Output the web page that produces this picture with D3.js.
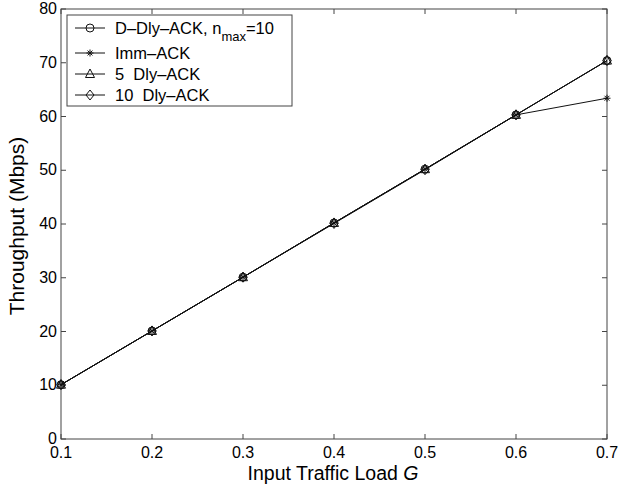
<!DOCTYPE html>
<html>
<head>
<meta charset="utf-8">
<script src="https://cdn.jsdelivr.net/npm/d3@7"></script>
<style>
  body { margin: 0; background: #fff; }
  text { font-family: "Liberation Sans", Arial, sans-serif; white-space: pre; }
</style>
</head>
<body>
<svg id="svg" width="620" height="487"></svg>
<script>
'use strict'

// values
const loads = [0.1, 0.2, 0.3, 0.4, 0.5, 0.6, 0.7]
const dDly = [10.1, 20.1, 30.1, 40.2, 50.2, 60.3, 70.4]
const imm = [10.1, 20.1, 30.1, 40.2, 50.2, 60.3, 63.4]
const dly5 = [10.1, 20.1, 30.1, 40.2, 50.2, 60.3, 70.4]
const dly10 = [10.1, 20.1, 30.1, 40.1, 50.1, 60.3, 70.4]
const xTicks = [0.1, 0.2, 0.3, 0.4, 0.5, 0.6, 0.7]
const yTicks = [0, 10, 20, 30, 40, 50, 60, 70, 80]

const series = [
  { name: 'D-Dly-ACK', values: dDly, marker: 'circle' },
  { name: 'Imm-ACK', values: imm, marker: 'star' },
  { name: '5  Dly-ACK', values: dly5, marker: 'triangle' },
  { name: '10  Dly-ACK', values: dly10, marker: 'diamond' }
]

function draw(){
  let svg = d3.select('#svg')
  let left = 61, right = 607, top = 9, bottom = 439
  const axisColor = '#444'

  let x = d3.scaleLinear().domain([0.1, 0.7]).range([left, right])
  let y = d3.scaleLinear().domain([0, 80]).range([bottom, top])

  // box
  svg.append('rect')
    .attr('x', left).attr('y', top)
    .attr('width', right - left).attr('height', bottom - top)
    .attr('fill', 'none').attr('stroke', axisColor).attr('stroke-width', 1)

  // ticks, inward on all four sides
  let tickLen = 5
  let g = svg.append('g').attr('stroke', axisColor).attr('stroke-width', 1)
  xTicks.forEach(t => {
    g.append('line').attr('x1', x(t)).attr('x2', x(t)).attr('y1', bottom).attr('y2', bottom - tickLen)
    g.append('line').attr('x1', x(t)).attr('x2', x(t)).attr('y1', top).attr('y2', top + tickLen)
  })
  yTicks.forEach(t => {
    g.append('line').attr('x1', left).attr('x2', left + tickLen).attr('y1', y(t)).attr('y2', y(t))
    g.append('line').attr('x1', right).attr('x2', right - tickLen).attr('y1', y(t)).attr('y2', y(t))
  })

  svg.append('g').selectAll('text')
    .data(xTicks).join('text')
    .attr('x', d => x(d)).attr('y', bottom + 19)
    .attr('text-anchor', 'middle')
    .attr('font-size', 16)
    .text(d => d.toFixed(1))

  svg.append('g').selectAll('text')
    .data(yTicks).join('text')
    .attr('x', left - 4).attr('y', d => y(d) + 5)
    .attr('text-anchor', 'end')
    .attr('font-size', 16)
    .text(d => d)

  // axis titles
  let xl = svg.append('text')
    .attr('x', 333).attr('y', 480)
    .attr('text-anchor', 'middle')
    .attr('font-size', 19.5)
  xl.append('tspan').text('Input Traffic Load ')
  xl.append('tspan').attr('font-style', 'italic').text('G')

  svg.append('text')
    .attr('transform', 'translate(24,226) rotate(-90)')
    .attr('text-anchor', 'middle')
    .attr('font-size', 21)
    .text('Throughput (Mbps)')

  // lines
  let line = d3.line()
    .x((d, i) => x(loads[i]))
    .y(d => y(d))

  series.forEach(s => {
    svg.append('path')
      .attr('d', line(s.values))
      .attr('fill', 'none')
      .attr('stroke', '#111')
      .attr('stroke-width', 1)
  })

  function marker(sel, type, cx, cy){
    let m = sel.append('g')
      .attr('transform', 'translate(' + cx + ',' + cy + ')')
      .attr('fill', 'none').attr('stroke', '#111').attr('stroke-width', 1)
    if (type === 'circle') {
      m.append('circle').attr('r', 4)
    } else if (type === 'star') {
      let r = 3.5
      m.append('path').attr('d',
        'M' + (-r) + ',0L' + r + ',0M0,' + (-r) + 'L0,' + r +
        'M' + (-r * .7) + ',' + (-r * .7) + 'L' + (r * .7) + ',' + (r * .7) +
        'M' + (-r * .7) + ',' + (r * .7) + 'L' + (r * .7) + ',' + (-r * .7))
    } else if (type === 'triangle') {
      m.append('path').attr('d', 'M0,-5L4.5,3.5L-4.5,3.5Z')
    } else if (type === 'diamond') {
      m.append('path').attr('d', 'M0,-5L4,0L0,5L-4,0Z')
    }
  }

  series.forEach(s => {
    s.values.forEach((v, i) => marker(svg, s.marker, x(loads[i]), y(v)))
  })

  // legend
  let lg = svg.append('g')
  lg.append('rect')
    .attr('x', 67).attr('y', 15)
    .attr('width', 225).attr('height', 91)
    .attr('fill', '#fff').attr('stroke', axisColor).attr('stroke-width', 1)

  let rowY = [28, 53, 74, 95]
  series.forEach((s, i) => {
    lg.append('line')
      .attr('x1', 75).attr('x2', 105)
      .attr('y1', rowY[i]).attr('y2', rowY[i])
      .attr('stroke', '#111').attr('stroke-width', 1)
    marker(lg, s.marker, 90, rowY[i])
    let t = lg.append('text')
      .attr('x', 115).attr('y', rowY[i] + 6)
      .attr('font-size', 16.5)
    if (i === 0) {
      t.append('tspan').text('D\u2013Dly\u2013ACK, n')
      t.append('tspan').attr('font-size', 13).attr('dy', 7).text('max')
      t.append('tspan').attr('dy', -7).text('=10')
    } else {
      t.text(s.name.replace(/-/g, '\u2013'))
    }
  })
}

draw()
</script>
</body>
</html>
